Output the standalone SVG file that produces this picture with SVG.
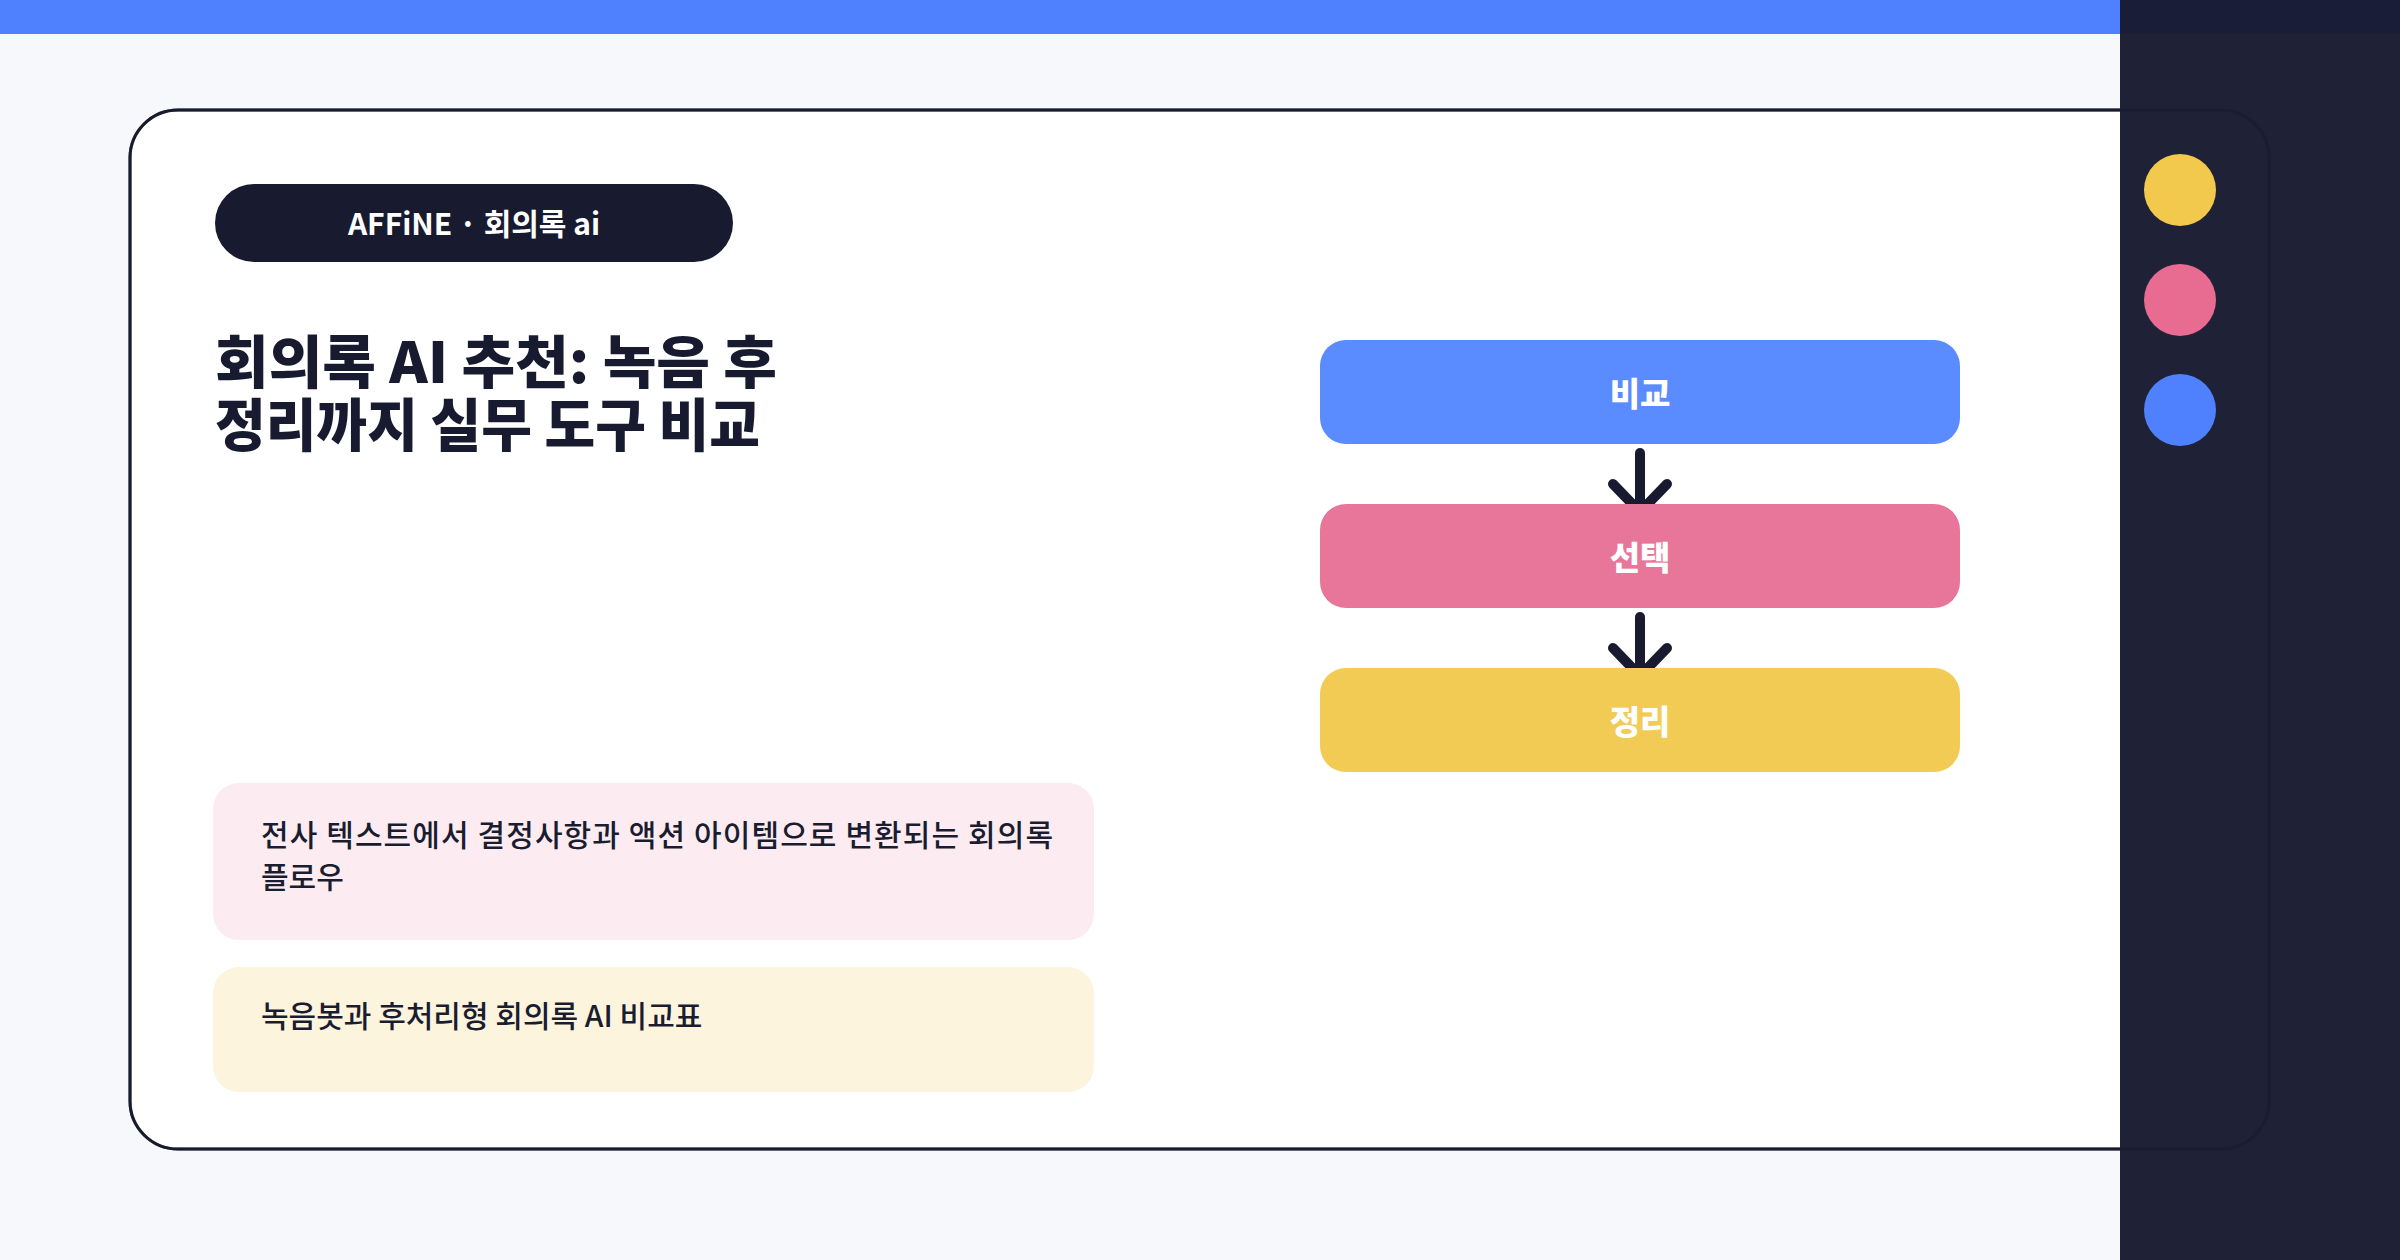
<svg xmlns="http://www.w3.org/2000/svg" width="2400" height="1260" viewBox="0 0 2400 1260">
<defs>
<style>
.k{font-family:"Noto Sans CJK KR","Noto Sans",sans-serif}
.title{font-size:57px;font-weight:900;fill:#181b30}
.box{font-size:33px;font-weight:900;fill:#ffffff}
.note{font-size:30px;font-weight:500;fill:#1a1c30}
.arrow{stroke:#181b30;stroke-width:10;stroke-linecap:round;stroke-linejoin:round;fill:none}
</style>
</defs>
<rect x="0" y="0" width="2400" height="1260" fill="#f7f8fb"/>
<rect x="0" y="0" width="2400" height="34" fill="#4f81ff"/>
<rect x="130" y="110" width="2139" height="1039" rx="48" fill="#ffffff" stroke="#1a1c30" stroke-width="3"/>
<rect x="2120" y="0" width="280" height="1260" fill="#1f2237"/>
<rect x="2120" y="0" width="280" height="34" fill="#1a1d38"/>
<rect x="130" y="110" width="2139" height="1039" rx="48" fill="none" stroke="#161a2c" stroke-width="3" opacity="0.6"/>
<g id="badge">
<rect x="215" y="184" width="518" height="78" rx="39" fill="#181b30"/>
<text class="k" x="474" y="235" font-size="30" font-weight="700" fill="#ffffff" text-anchor="middle">AFFiNE · 회의록 ai</text>
</g>
<g id="title">
<text class="k title" x="215" y="383" textLength="562" lengthAdjust="spacingAndGlyphs">회의록 AI 추천: 녹음 후</text>
<text class="k title" x="215" y="446" textLength="545" lengthAdjust="spacingAndGlyphs">정리까지 실무 도구 비교</text>
</g>
<g id="connectors">
<line class="arrow" x1="1640" y1="453" x2="1640" y2="511"/>
<polyline class="arrow" points="1613,484 1640,512 1667,484"/>
<line class="arrow" x1="1640" y1="617" x2="1640" y2="675"/>
<polyline class="arrow" points="1613,648 1640,676 1667,648"/>
</g>
<g id="node-compare">
<rect x="1320" y="340" width="640" height="104" rx="26" fill="#5b8cff"/>
<text class="k box" x="1640" y="406" text-anchor="middle">비교</text>
</g>
<g id="node-select">
<rect x="1320" y="504" width="640" height="104" rx="26" fill="#e8769a"/>
<text class="k box" x="1640" y="570" text-anchor="middle">선택</text>
</g>
<g id="node-organize">
<rect x="1320" y="668" width="640" height="104" rx="26" fill="#f2cb55"/>
<text class="k box" x="1640" y="734" text-anchor="middle">정리</text>
</g>
<g id="note-1">
<rect x="213" y="783" width="881" height="157" rx="26" fill="#fcecf1"/>
<text class="k note" x="261" y="846" textLength="792" lengthAdjust="spacing">전사 텍스트에서 결정사항과 액션 아이템으로 변환되는 회의록</text>
<text class="k note" x="261" y="888">플로우</text>
</g>
<g id="note-2">
<rect x="213" y="967" width="881" height="125" rx="26" fill="#fdf4de"/>
<text class="k note" x="261" y="1027">녹음봇과 후처리형 회의록 AI 비교표</text>
</g>
<g id="dots">
<circle cx="2180" cy="190" r="36" fill="#f2c94c"/>
<circle cx="2180" cy="300" r="36" fill="#e86b92"/>
<circle cx="2180" cy="410" r="36" fill="#4f81ff"/>
</g>
</svg>
